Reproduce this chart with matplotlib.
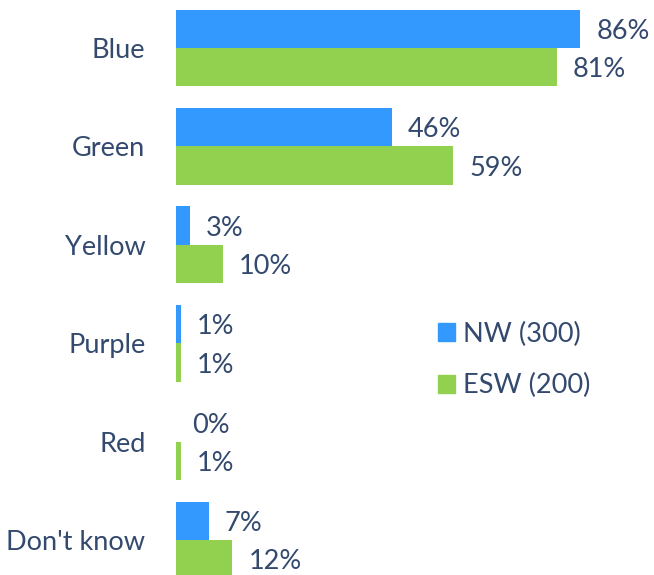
import matplotlib
matplotlib.use("Agg")
import matplotlib.pyplot as plt
import matplotlib.patches as mpatches
import numpy as np

categories = ["Blue", "Green", "Yellow", "Purple", "Red", "Don't know"]
nw_values = [86, 46, 3, 1, 0, 7]
esw_values = [81, 59, 10, 1, 1, 12]
series_names = ["NW (300)", "ESW (200)"]

BLUE = "#3399FF"
GREEN = "#92D050"
TEXT = "#33496E"
FONT = "Lato"
FS = 19.5

plt.rcParams['font.family'] = [FONT, 'DejaVu Sans']

fig = plt.figure(figsize=(6.54, 5.75), dpi=100)
ax = fig.add_axes([176/654, 0, 470/654, 1])

y = np.arange(len(categories))
h = 0.39
b1 = ax.barh(y - h/2, nw_values, height=h, color=BLUE, label=series_names[0])
b2 = ax.barh(y + h/2, esw_values, height=h, color=GREEN, label=series_names[1])

for bars, vals in ((b1, nw_values), (b2, esw_values)):
    for bar, v in zip(bars, vals):
        ax.annotate(f"{v}%", xy=(bar.get_width(), bar.get_y() + bar.get_height()/2),
                    xytext=(11.5, -2), textcoords="offset points",
                    ha="left", va="center", fontsize=FS, color=TEXT)

ax.set_xlim(0, 100)
ax.set_ylim(5.356, -0.488)
ax.set_yticks(y)
ax.set_yticklabels(categories, fontsize=FS, color=TEXT)
ax.tick_params(axis="y", length=0, pad=22)
ax.set_xticks([])
for s in ax.spines.values():
    s.set_visible(False)

handles = [mpatches.Patch(color=BLUE), mpatches.Patch(color=GREEN)]
fig.legend(handles, series_names, loc="center left",
           bbox_to_anchor=(438/654, 1 - 360/575), frameon=False,
           fontsize=FS, labelcolor=TEXT, handlelength=0.62, handleheight=0.62,
           handletextpad=0.3, labelspacing=0.98, borderpad=0, borderaxespad=0)

fig.savefig("out.png", dpi=100)
